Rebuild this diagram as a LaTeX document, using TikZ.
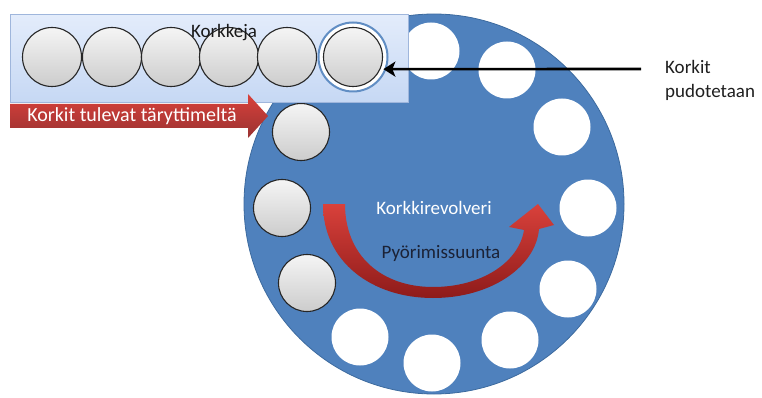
\documentclass[tikz,border=0pt]{standalone}
\usepackage{fontspec}
\setmainfont{Carlito}
\usetikzlibrary{arrows.meta}

\definecolor{revblue}{HTML}{4F81BD}
\definecolor{revedge}{HTML}{3C6A9E}
\definecolor{boxtop}{HTML}{E3ECFB}
\definecolor{boxbot}{HTML}{C6D8F4}
\definecolor{boxedge}{HTML}{9FB6DC}
\definecolor{arrowred}{HTML}{D9413B}
\definecolor{arrowdark}{HTML}{8E1B1A}
\definecolor{darktext}{HTML}{1B2236}

\begin{document}
\begin{tikzpicture}[x=1pt,y=-1pt,
    hole/.style={circle,fill=white,minimum size=57pt,inner sep=0pt},
    cork/.style={circle,draw=black!85,line width=1.1pt,top color=gray!8,bottom color=gray!40,
      minimum size=57pt,inner sep=0pt},
    txt/.style={font=\fontsize{19}{24}\selectfont,inner sep=0pt},
    droparrow/.style={line width=2.6pt,-{Stealth[length=12pt,width=15pt,inset=3pt]},shorten >=-3pt}]
  \useasboundingbox (0,0) rectangle (762,398);

  % Revolver disc
  \node[circle,fill=revblue,draw=revedge,line width=0.8pt,minimum size=380pt,inner sep=0pt] (revolver) at (434,204) {};

  % Empty places
  \node[hole] (h1) at (431,51) {};
  \node[hole] (h2) at (507,70) {};
  \node[hole] (h3) at (562,127) {};
  \node[hole] (h4) at (588,208) {};
  \node[hole] (h5) at (568,289) {};
  \node[hole] (h6) at (510,340) {};
  \node[hole] (h7) at (432,363) {};
  \node[hole] (h8) at (360,337) {};

  % Corks already in the revolver
  \node[cork] (r1) at (301,132) {};
  \node[cork] (r2) at (282,208) {};
  \node[cork] (r3) at (307,283) {};

  % Rotation arrow
  \path[top color=arrowred,bottom color=arrowdark]
    (323,204) .. controls (323,262) and (372,298) .. (433,298)
    .. controls (492,298) and (536,266) .. (539,229)
    -- (554,225) -- (538,204) -- (509,227) -- (524,230)
    .. controls (519,262) and (482,287) .. (433,287)
    .. controls (382,287) and (345,256) .. (345,204) -- cycle;
  \node[txt,text=white] (revtext) at (434,208) {Korkkirevolveri};
  \node[txt,text=darktext] (rottext) at (441,253) {Pyörimissuunta};

  % Cork tray
  \node[draw=boxedge,line width=0.8pt,top color=boxtop,bottom color=boxbot,minimum width=398pt,
    minimum height=88pt,inner sep=0pt,anchor=north west] (tray) at (10,14) {};
  \node[cork,minimum size=59pt] (c1) at (52,57) {};
  \node[cork,minimum size=59pt] (c2) at (112,57) {};
  \node[cork,minimum size=59pt] (c3) at (171,57) {};
  \node[cork,minimum size=59pt] (c4) at (229,57) {};
  \node[cork,minimum size=59pt] (c5) at (287,57) {};
  \node[circle,fill=white,draw=revblue!90,line width=2pt,minimum size=69pt,inner sep=0pt] (ring6) at (353,57) {};
  \node[cork,minimum size=59pt] (c6) at (353,57) {};
  \node[txt,text=black!90] (traytext) at (224,33) {Korkkeja};

  % Feed arrow
  \path[top color=arrowred,bottom color=arrowdark!90]
    (10,104) -- (248,104) -- (248,94) -- (268,116) -- (248,138) -- (248,128) -- (10,128) -- cycle;
  \node[txt,font=\fontsize{20}{24}\selectfont,text=white] (feedtext) at (132,116) {Korkit tulevat täryttimeltä};

  % Drop
  \coordinate (dropstart) at (641,69);
  \draw[droparrow] (dropstart) -- (ring6.-20);
  \node[txt,text=black!88,align=left,anchor=west] (droptext) at (665,80) {Korkit\\pudotetaan};
\end{tikzpicture}
\end{document}
